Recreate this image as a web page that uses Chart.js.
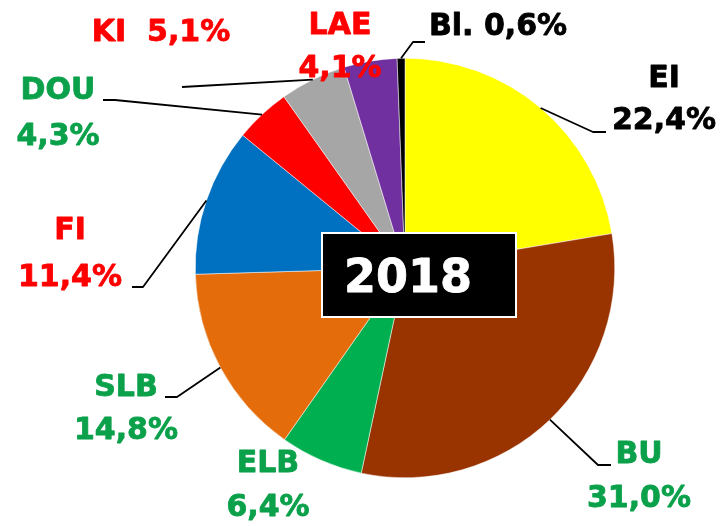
<!DOCTYPE html>
<html>
<head>
<meta charset="utf-8">
<script src="https://cdn.jsdelivr.net/npm/chart.js@4/dist/chart.umd.min.js"></script>
<style>
  html, body { margin: 0; padding: 0; background: #ffffff; }
  #wrap { width: 722px; height: 526px; position: relative; }
</style>
</head>
<body>
<div id="wrap"><canvas id="chart"></canvas></div>
<script>
// Shares 2018 (%)
const categories = ['EI', 'BU', 'ELB', 'SLB', 'FI', 'DOU', 'KI', 'LAE', 'Bl.'];
const shares = [22.4, 31.0, 6.4, 14.8, 11.4, 4.3, 5.1, 4.1, 0.6];
const shareLabels = ['22,4%', '31,0%', '6,4%', '14,8%', '11,4%', '4,3%', '5,1%', '4,1%', '0,6%'];
const yearLabel = '2018';

// Slice and label colours
const sliceColors = ['#ffff00', '#993300', '#00b050', '#e46c0a', '#0070c0', '#ff0000', '#a6a6a6', '#7030a0', '#000000'];
const GREEN = '#0ba14b';
const labelColors = ['#000000', GREEN, GREEN, GREEN, '#ff0000', GREEN, '#ff0000', '#ff0000', '#000000'];

// Label placement: centre of name line / value line, or single-line text
// elbow + end of leader line (null = no leader)
const labelLayout = [
    { x: 664, y1: 76,  y2: 118, leader: [[593, 132], [606, 132]] },
    { x: 639, y1: 452, y2: 496, leader: [[598, 465], [611, 465]] },
    { x: 268, y1: 461, y2: 505, leader: null },
    { x: 126, y1: 385, y2: 428, leader: [[177, 397], [165, 397]] },
    { x: 70,  y1: 228, y2: 275, leader: [[143, 287], [132, 287]] },
    { x: 58,  y1: 88,  y2: 134, leader: [[115, 100], [103, 100]] },
    { x: 161, single: 30, leader: [[182, 87]] },
    { x: 340, y1: 23,  y2: 66,  leader: null },
    { x: 498, single: 24, leader: [[413, 42], [425, 42]] }
];

const FONT = 'bold 30px "DejaVu Sans", sans-serif';

function drawText(ctx, text, x, yMid, color, font, size) {
    ctx.font = font;
    ctx.fillStyle = color;
    ctx.strokeStyle = color;
    ctx.lineWidth = 0.8;
    ctx.lineJoin = 'round';
    ctx.textAlign = 'center';
    ctx.textBaseline = 'alphabetic';
    ctx.fillText(text, x, yMid + size * 0.365);
    ctx.strokeText(text, x, yMid + size * 0.365);
}

const labelPlugin = {
    id: 'pieLabels',
    afterDatasetsDraw(chart) {
        const ctx = chart.ctx;
        const meta = chart.getDatasetMeta(0);
        ctx.save();

        // centre box
        const cx = meta.data[0].x;
        const cy = meta.data[0].y;
        ctx.fillStyle = '#000000';
        ctx.fillRect(cx - 83, cy - 35, 194, 84);
        ctx.strokeStyle = '#ffffff';
        ctx.lineWidth = 2;
        ctx.strokeRect(cx - 83, cy - 35, 194, 84);
        drawText(ctx, yearLabel, cx + 3, cy + 7, '#ffffff', 'bold 46px "DejaVu Sans", sans-serif', 46);

        // leader lines
        ctx.strokeStyle = '#000000';
        ctx.lineWidth = 1.8;
        meta.data.forEach((arc, i) => {
            const lay = labelLayout[i];
            if (!lay.leader) return;
            const mid = (arc.startAngle + arc.endAngle) / 2;
            const sx = arc.x + Math.cos(mid) * arc.outerRadius;
            const sy = arc.y + Math.sin(mid) * arc.outerRadius;
            ctx.beginPath();
            ctx.moveTo(sx, sy);
            lay.leader.forEach(p => ctx.lineTo(p[0], p[1]));
            ctx.stroke();
        });

        // texts
        categories.forEach((cat, i) => {
            const lay = labelLayout[i];
            if (lay.single !== undefined) {
                const sep = cat === 'KI' ? '  ' : ' ';
                drawText(ctx, cat + sep + shareLabels[i], lay.x, lay.single, labelColors[i], FONT, 30);
            } else {
                drawText(ctx, cat, lay.x, lay.y1, labelColors[i], FONT, 30);
                drawText(ctx, shareLabels[i], lay.x, lay.y2, labelColors[i], FONT, 30);
            }
        });
        ctx.restore();
    }
};

new Chart(document.getElementById('chart'), {
    type: 'pie',
    data: {
        labels: categories,
        datasets: [{
            data: shares,
            backgroundColor: sliceColors,
            borderColor: '#ffffff',
            borderWidth: 0.5
        }]
    },
    options: {
        responsive: true,
        maintainAspectRatio: false,
        animation: false,
        layout: { padding: { left: 195, right: 107, top: 58, bottom: 48 } },
        plugins: {
            legend: { display: false },
            tooltip: { enabled: false }
        }
    },
    plugins: [labelPlugin]
});
</script>
</body>
</html>
